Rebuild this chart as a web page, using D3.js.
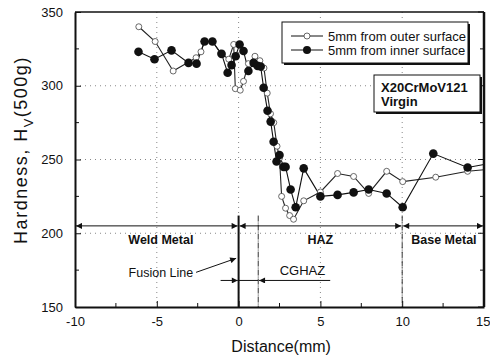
<!DOCTYPE html>
<html>
<head>
<meta charset="utf-8">
<script src="https://cdn.jsdelivr.net/npm/d3@7"></script>
<style>
  body { margin: 0; background: #fff; }
  text { font-family: Arial, "Liberation Sans", sans-serif; fill: #111; }
</style>
</head>
<body>
<div id="chart"></div>
<script>
const W = 490, H = 362;
const margin = { top: 12, right: 6, bottom: 55, left: 75 };

// outer surface (open circles)
const outerX = [-6.1, -5.1, -4.0, -2.6, -2.3, -2.1, -1.6, -1.1, -0.6, -0.3, -0.2, 0.1, 0.3, 0.6, 1.0, 1.3, 1.55,
  1.75, 1.95, 2.15, 2.35, 2.5, 2.63, 2.87, 3.12, 3.36, 3.98, 5.0, 6.05, 7.03, 7.95, 9.05, 10.03, 12.05, 14.0, 15.0];
const outerY = [340, 330, 310, 319, 323, 330, 330, 322, 318, 328, 298, 297, 303, 315, 320, 317, 312,
  295, 281, 275, 259, 251, 225, 217, 212, 209.5, 222, 228, 240.5, 238.5, 227, 242, 235, 238, 242, 243];

// inner surface (filled circles)
const innerX = [-6.12, -5.14, -4.1, -3.06, -2.57, -2.08, -1.6, -1.04, -0.67, -0.43, -0.18, 0.06, 0.3, 0.6, 0.92, 1.16, 1.35,
  1.53, 1.77, 1.96, 2.14, 2.32, 2.5, 2.75, 2.87, 3.18, 3.49, 3.98, 5.0, 6.05, 7.03, 7.95, 9.05, 10.03, 11.9, 14.0, 15.0];
const innerY = [323, 318, 324, 315.5, 315, 330, 330, 321.6, 308.8, 314, 320, 328, 323.6, 310, 315.5, 313.5, 313,
  298.6, 283, 275.7, 262, 248.6, 253, 245, 245, 229.7, 217.6, 244, 225, 226, 227.7, 229.7, 227, 217.6, 254, 244.6, 246.6];

const seriesNames = ["5mm from outer surface", "5mm from inner surface"];
const xTicks = [-10, -5, 0, 5, 10, 15];
const yTicks = [150, 200, 250, 300, 350];
const xMinor = [-7.5, -2.5, 2.5, 7.5, 12.5];
const yMinor = [175, 225, 275, 325];

const zones = [
  { label: "Weld Metal", from: -10, to: 0 },
  { label: "HAZ", from: 0, to: 10 },
  { label: "Base Metal", from: 10, to: 15 }
];
const zoneY = 205;
const boundaries = [0, 1.2, 10];

const svg = d3.select("#chart").append("svg").attr("width", W).attr("height", H);

const x = d3.scaleLinear().domain([-10, 15]).range([margin.left, W - margin.right]);
const y = d3.scaleLinear().domain([150, 350]).range([H - margin.bottom, margin.top]);

// arrowhead
const defs = svg.append("defs");
defs.append("marker").attr("id", "arr").attr("viewBox", "0 0 10 10")
  .attr("refX", 10).attr("refY", 5).attr("markerWidth", 9).attr("markerHeight", 6)
  .attr("markerUnits", "userSpaceOnUse").attr("orient", "auto-start-reverse")
  .append("path").attr("d", "M0,0 L10,5 L0,10 Z").attr("fill", "#111");

// dotted grid
const grid = svg.append("g").attr("stroke", "#888").attr("stroke-width", 1).attr("stroke-dasharray", "1,4");
grid.selectAll(".gx").data([-5, 0, 5, 10]).join("line")
  .attr("x1", d => x(d)).attr("x2", d => x(d)).attr("y1", y(350)).attr("y2", y(150));
grid.selectAll(".gy").data([200, 250, 300]).join("line")
  .attr("y1", d => y(d)).attr("y2", d => y(d)).attr("x1", x(-10)).attr("x2", x(15));

// zone boundaries
svg.append("line").attr("x1", x(0)).attr("x2", x(0)).attr("y1", y(212)).attr("y2", y(150))
  .attr("stroke", "#111").attr("stroke-width", 2);
svg.selectAll(".bd").data(boundaries.slice(1)).join("line")
  .attr("x1", d => x(d)).attr("x2", d => x(d)).attr("y1", y(212)).attr("y2", y(150))
  .attr("stroke", "#333").attr("stroke-width", 1).attr("stroke-dasharray", "6,1,1,1");

// zone arrows and labels
svg.selectAll(".zone").data(zones).join("line")
  .attr("x1", d => x(d.from) + 1).attr("x2", d => x(d.to) - 1)
  .attr("y1", y(zoneY)).attr("y2", y(zoneY))
  .attr("stroke", "#111").attr("stroke-width", 1)
  .attr("marker-start", "url(#arr)").attr("marker-end", "url(#arr)");
svg.selectAll(".zlab").data(zones).join("text")
  .attr("x", d => d.label === "Weld Metal" ? x(-4.75) : d.label === "HAZ" ? x(5) : x(12.55))
  .attr("y", y(zoneY) + 18)
  .attr("text-anchor", "middle").attr("font-size", 12.5).attr("font-weight", "bold")
  .text(d => d.label);

// Fusion line
svg.append("text").attr("x", x(-4.75)).attr("y", y(173) + 4).attr("text-anchor", "middle")
  .attr("font-size", 12.5).text("Fusion Line");
svg.append("line").attr("x1", x(-2.6)).attr("y1", y(173.5)).attr("x2", x(-0.15)).attr("y2", y(183))
  .attr("stroke", "#111").attr("stroke-width", 1).attr("marker-end", "url(#arr)");

// CGHAZ
svg.append("line").attr("x1", x(-1.1)).attr("x2", x(-0.05)).attr("y1", y(168)).attr("y2", y(168))
  .attr("stroke", "#111").attr("marker-end", "url(#arr)");
svg.append("line").attr("x1", x(5.6)).attr("x2", x(1.25)).attr("y1", y(168)).attr("y2", y(168))
  .attr("stroke", "#111").attr("marker-end", "url(#arr)");
svg.append("line").attr("x1", x(0)).attr("x2", x(1.2)).attr("y1", y(168)).attr("y2", y(168))
  .attr("stroke", "#111");
svg.append("text").attr("x", x(3.9)).attr("y", y(168) - 5).attr("text-anchor", "middle")
  .attr("font-size", 13).text("CGHAZ");

// series
const outer = outerX.map((d, i) => ({ x: d, y: outerY[i] }));
const inner = innerX.map((d, i) => ({ x: d, y: innerY[i] }));
const line = d3.line().x(d => x(d.x)).y(d => y(d.y));

svg.append("path").datum(outer).attr("d", line).attr("fill", "none").attr("stroke", "#222").attr("stroke-width", 1.1);
svg.append("path").datum(inner).attr("d", line).attr("fill", "none").attr("stroke", "#111").attr("stroke-width", 1.1);
svg.selectAll(".po").data(outer.filter(d => d.x < 15)).join("circle")
  .attr("cx", d => x(d.x)).attr("cy", d => y(d.y)).attr("r", 3)
  .attr("fill", "#fff").attr("stroke", "#444").attr("stroke-width", 0.8);
svg.selectAll(".pi").data(inner.filter(d => d.x < 15)).join("circle")
  .attr("cx", d => x(d.x)).attr("cy", d => y(d.y)).attr("r", 4.3).attr("fill", "#111");

// axes
const axL = svg.append("g").attr("transform", `translate(${x(-10)},0)`)
  .call(d3.axisLeft(y).tickValues(yTicks).tickSizeInner(-6).tickSizeOuter(0).tickPadding(12));
const axB = svg.append("g").attr("transform", `translate(0,${y(150)})`)
  .call(d3.axisBottom(x).tickValues(xTicks).tickSizeInner(-6).tickSizeOuter(0).tickPadding(10)
    .tickFormat(d3.format("d")));
[axL, axB].forEach(a => {
  a.select(".domain").attr("stroke", "#111").attr("stroke-width", 2);
  a.selectAll("text").attr("font-size", 13).attr("fill", "#111");
  a.selectAll("line").attr("stroke", "#111");
});
axB.selectAll("text").text(d => d < 0 ? "-" + Math.abs(d) : d)
  .filter(d => d === 15).attr("text-anchor", "end").attr("dx", 6);
svg.append("g").selectAll("line").data(yMinor).join("line")
  .attr("x1", x(-10)).attr("x2", x(-10) + 4).attr("y1", d => y(d)).attr("y2", d => y(d)).attr("stroke", "#111");
svg.append("g").selectAll("line").data(xMinor).join("line")
  .attr("x1", d => x(d)).attr("x2", d => x(d)).attr("y1", y(150)).attr("y2", y(150) - 4).attr("stroke", "#111");
// right and top frame
svg.append("line").attr("x1", x(15)).attr("x2", x(15)).attr("y1", y(350)).attr("y2", y(150))
  .attr("stroke", "#111").attr("stroke-width", 2.5);
svg.append("line").attr("x1", x(-10)).attr("x2", x(15)).attr("y1", y(350)).attr("y2", y(350))
  .attr("stroke", "#111").attr("stroke-width", 1.5);
svg.append("g").selectAll("line").data(yTicks.concat(yMinor)).join("line")
  .attr("x1", x(15)).attr("x2", d => x(15) - (yTicks.includes(d) ? 6 : 4))
  .attr("y1", d => y(d)).attr("y2", d => y(d)).attr("stroke", "#111");

// axis titles
svg.append("text").attr("x", x(2.6)).attr("y", 352).attr("text-anchor", "middle")
  .attr("font-size", 16).text("Distance(mm)");
const yt = svg.append("text").attr("transform", `translate(27,150) rotate(-90)`)
  .attr("text-anchor", "middle").attr("font-size", 18).attr("letter-spacing", 1.5);
yt.append("tspan").text("Hardness, H");
yt.append("tspan").attr("dy", 6).attr("font-size", 13).text("V");
yt.append("tspan").attr("dy", -6).text("(500g)");

// legend
const lg = svg.append("g").attr("transform", "translate(282,22)");
lg.append("rect").attr("x", 2).attr("y", 2).attr("width", 186).attr("height", 41).attr("fill", "#111");
lg.append("rect").attr("width", 186).attr("height", 41).attr("fill", "#fff").attr("stroke", "#111");
seriesNames.forEach((name, i) => {
  const ry = 14 + i * 14;
  lg.append("line").attr("x1", 9).attr("x2", 41).attr("y1", ry).attr("y2", ry).attr("stroke", "#111");
  lg.append("circle").attr("cx", 25).attr("cy", ry).attr("r", i ? 4 : 3)
    .attr("fill", i ? "#111" : "#fff").attr("stroke", i ? "none" : "#444").attr("stroke-width", 0.8);
  lg.append("text").attr("x", 46).attr("y", ry + 4.5).attr("font-size", 13).text(name);
});

// material box
const mb = svg.append("g").attr("transform", "translate(374,75)");
mb.append("rect").attr("x", 2).attr("y", 2).attr("width", 106).attr("height", 37).attr("fill", "#111");
mb.append("rect").attr("width", 106).attr("height", 37).attr("fill", "#fff").attr("stroke", "#111");
mb.append("text").attr("x", 7).attr("y", 17).attr("font-size", 13).attr("font-weight", "bold").text("X20CrMoV121");
mb.append("text").attr("x", 7).attr("y", 31).attr("font-size", 13).attr("font-weight", "bold").text("Virgin");
</script>
</body>
</html>
